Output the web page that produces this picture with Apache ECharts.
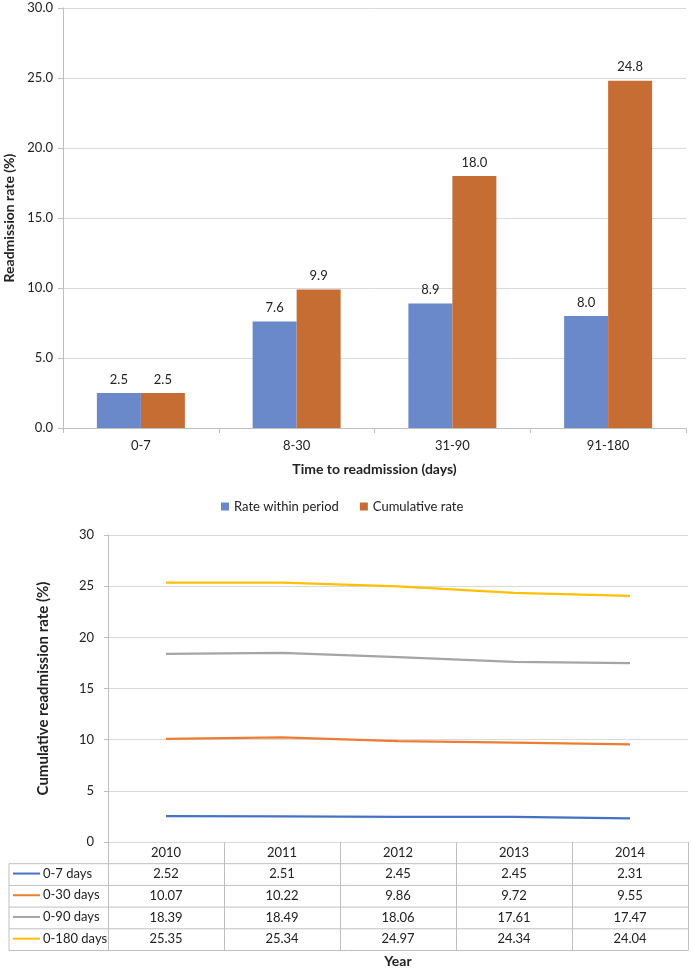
<!DOCTYPE html>
<html>
<head>
<meta charset="utf-8">
<script src="https://cdn.jsdelivr.net/npm/echarts@6/dist/echarts.min.js"></script>
<style>
    html, body { margin: 0; padding: 0; background: #fff; }
    #chart { width: 692px; height: 970px; }
</style>
</head>
<body>
<div id="chart"></div>
<script>
// top chart data
var periodLabels = ['0-7', '8-30', '31-90', '91-180'];
var rateWithinPeriod = [2.5, 7.6, 8.9, 8.0];
var cumulativeRate = [2.5, 9.9, 18.0, 24.8];

// bottom chart data
var years = ['2010', '2011', '2012', '2013', '2014'];
var rowNames = ['0-7 days', '0-30 days', '0-90 days', '0-180 days'];
var days7 = [2.52, 2.51, 2.45, 2.45, 2.31];
var days30 = [10.07, 10.22, 9.86, 9.72, 9.55];
var days90 = [18.39, 18.49, 18.06, 17.61, 17.47];
var days180 = [25.35, 25.34, 24.97, 24.34, 24.04];

var FONT = 'Lato, "Open Sans", sans-serif';
var TXT = '#222';
var GRID_LINE = '#d9d9d9';
var AXIS_LINE = '#bfbfbf';

var lineColors = ['#4472C4', '#ED7D31', '#A5A5A5', '#FFC000'];
var lineData = [days7, days30, days90, days180];

// layout of the bottom grid + data table
var G2_LEFT = 108, G2_TOP = 535, G2_W = 580, G2_H = 307;
var G2_BOTTOM = G2_TOP + G2_H;
var ROW_H = 21.7;
var TABLE_LEFT = 9;

var chart = echarts.init(document.getElementById('chart'));

var xAxes = [
    {
        gridIndex: 0,
        type: 'category',
        data: periodLabels,
        axisLine: { lineStyle: { color: AXIS_LINE } },
        axisTick: { show: true, length: 5, lineStyle: { color: AXIS_LINE } },
        axisLabel: { color: TXT, fontSize: 13, fontFamily: FONT, margin: 11 },
        name: 'Time to readmission (days)',
        nameLocation: 'middle',
        nameGap: 34,
        nameTextStyle: { color: TXT, fontSize: 14, fontWeight: 'bold', fontFamily: FONT }
    },
    {
        gridIndex: 1,
        type: 'category',
        data: years,
        axisLine: { lineStyle: { color: GRID_LINE } },
        axisTick: { show: true, length: ROW_H * 5, interval: 0, lineStyle: { color: AXIS_LINE } },
        axisLabel: { color: TXT, fontSize: 13, fontFamily: FONT, margin: 4, interval: 0 },
        name: 'Year',
        nameLocation: 'middle',
        nameGap: 112,
        nameTextStyle: { color: TXT, fontSize: 14, fontWeight: 'bold', fontFamily: FONT }
    }
];

// one extra axis per table row, used only for the value labels
lineData.forEach(function (row, i) {
    xAxes.push({
        gridIndex: 1,
        type: 'category',
        position: 'bottom',
        offset: ROW_H * (i + 1),
        data: row.map(function (v) { return v.toFixed(2); }),
        axisLine: { show: false },
        axisTick: { show: false },
        axisLabel: { color: TXT, fontSize: 13, fontFamily: FONT, margin: 4, interval: 0 }
    });
});

var legends = [
    {
        data: ['Rate within period', 'Cumulative rate'],
        left: 221,
        top: 500,
        padding: 0,
        icon: 'rect',
        itemWidth: 8,
        itemHeight: 8,
        itemGap: 21,
        selectedMode: false,
        textStyle: { color: TXT, fontSize: 13, fontFamily: FONT }
    }
];
rowNames.forEach(function (name, i) {
    var center = G2_BOTTOM + ROW_H * (i + 1.5);
    legends.push({
        data: [name],
        left: 13,
        top: center - 7.5,
        padding: 0,
        icon: 'rect',
        itemWidth: 27,
        itemHeight: 2,
        selectedMode: false,
        textStyle: { color: TXT, fontSize: 13, fontFamily: FONT, padding: [0, 0, 0, -2] }
    });
});

// table borders
var tableLines = [];
for (var r = 1; r <= 5; r++) {
    var y = G2_BOTTOM + ROW_H * r;
    tableLines.push({
        type: 'line',
        shape: { x1: TABLE_LEFT, y1: y, x2: G2_LEFT + G2_W, y2: y },
        style: { stroke: AXIS_LINE, lineWidth: 1 },
        silent: true
    });
}
tableLines.push({
    type: 'line',
    shape: { x1: TABLE_LEFT, y1: G2_BOTTOM + ROW_H, x2: TABLE_LEFT, y2: G2_BOTTOM + ROW_H * 5 },
    style: { stroke: AXIS_LINE, lineWidth: 1 },
    silent: true
});

var barLabel = {
    show: true, position: 'top', distance: 7,
    color: TXT, fontSize: 13, fontFamily: FONT,
    formatter: function (p) { return p.value.toFixed(1); }
};

var series = [
    {
        name: 'Rate within period',
        type: 'bar',
        xAxisIndex: 0,
        yAxisIndex: 0,
        data: rateWithinPeriod,
        barGap: '0%',
        barCategoryGap: '43.5%',
        itemStyle: { color: '#6A89CB' },
        label: barLabel
    },
    {
        name: 'Cumulative rate',
        type: 'bar',
        xAxisIndex: 0,
        yAxisIndex: 0,
        data: cumulativeRate,
        itemStyle: { color: '#C66D34' },
        label: barLabel
    }
];
lineData.forEach(function (row, i) {
    series.push({
        name: rowNames[i],
        type: 'line',
        xAxisIndex: 1,
        yAxisIndex: 1,
        data: row,
        showSymbol: false,
        symbol: 'none',
        lineStyle: { color: lineColors[i], width: 2.25 },
        itemStyle: { color: lineColors[i] }
    });
});

var option = {
    animation: false,
    textStyle: { fontFamily: FONT },
    grid: [
        { left: 63, top: 8, width: 623, height: 420, containLabel: false, outerBoundsMode: 'none' },
        { left: G2_LEFT, top: G2_TOP, width: G2_W, height: G2_H, containLabel: false, outerBoundsMode: 'none' }
    ],
    legend: legends,
    xAxis: xAxes,
    yAxis: [
        {
            gridIndex: 0,
            type: 'value',
            min: 0, max: 30, interval: 5,
            axisLine: { show: true, lineStyle: { color: AXIS_LINE } },
            axisTick: { show: true, length: 5, lineStyle: { color: AXIS_LINE } },
            splitLine: { lineStyle: { color: GRID_LINE } },
            axisLabel: {
                color: TXT, fontSize: 13, fontFamily: FONT, margin: 10,
                formatter: function (v) { return v.toFixed(1); }
            },
            name: 'Readmission rate (%)',
            nameLocation: 'middle',
            nameGap: 46,
            nameTextStyle: { color: TXT, fontSize: 14, fontWeight: 'bold', fontFamily: FONT }
        },
        {
            gridIndex: 1,
            type: 'value',
            min: 0, max: 30, interval: 5,
            axisLine: { show: true, lineStyle: { color: AXIS_LINE } },
            axisTick: { show: true, length: 4, lineStyle: { color: AXIS_LINE } },
            splitLine: { lineStyle: { color: GRID_LINE } },
            axisLabel: { color: TXT, fontSize: 13, fontFamily: FONT, margin: 14 },
            name: 'Cumulative readmission rate (%)',
            nameLocation: 'middle',
            nameGap: 57,
            nameTextStyle: { color: TXT, fontSize: 15, fontWeight: 'bold', fontFamily: FONT }
        }
    ],
    graphic: tableLines,
    series: series
};

chart.setOption(option);

window.onresize = function () {
    chart.resize();
};
</script>
</body>
</html>
